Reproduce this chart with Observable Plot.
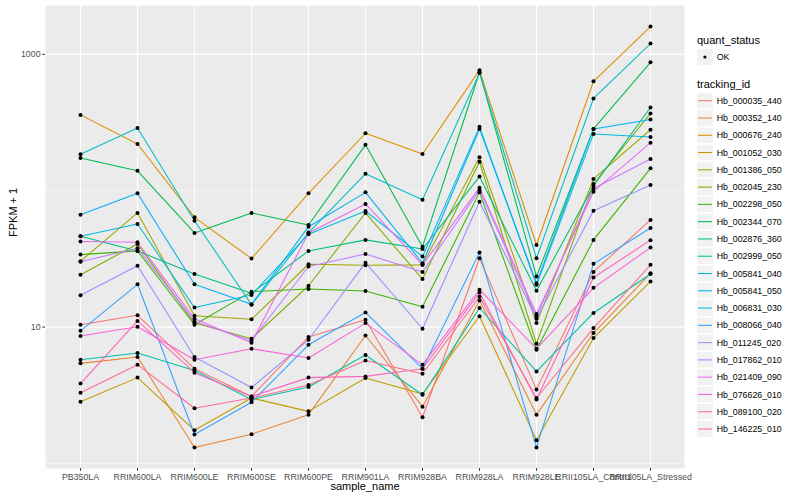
<!DOCTYPE html>
<html>
<head>
<meta charset="utf-8">
<script src="https://cdn.jsdelivr.net/npm/d3@7"></script>
<script src="https://cdn.jsdelivr.net/npm/@observablehq/plot@0.6"></script>
<style>
  body { margin: 0; background: white; font-family: "Liberation Sans", Arial, sans-serif; }
  #wrap { display: flex; width: 800px; height: 500px; }
</style>
</head>
<body>
<div id="wrap"></div>
<script>
const samples = ["PB350LA","RRIM600LA","RRIM600LE","RRIM600SE","RRIM600PE","RRIM901LA","RRIM928BA","RRIM928LA","RRIM928LE","RRII105LA_Control","RRII105LA_Stressed"];

const trackingIds = ["Hb_000035_440","Hb_000352_140","Hb_000676_240","Hb_001052_030","Hb_001386_050","Hb_002045_230","Hb_002298_050","Hb_002344_070","Hb_002876_360","Hb_002999_050","Hb_005841_040","Hb_005841_050","Hb_006831_030","Hb_008066_040","Hb_011245_020","Hb_017862_010","Hb_021409_090","Hb_076626_010","Hb_089100_020","Hb_146225_010"];

const palette = ["#F8766D","#EA8331","#D89000","#C09B00","#A3A500","#7CAE00","#39B600","#00BB4E","#00BF7D","#00C1A3","#00BFC4","#00BAE0","#00B0F6","#35A2FF","#9590FF","#C77CFF","#E76BF3","#FA62DB","#FF62BC","#FF6C91"];

// FPKM + 1 per sample (order of samples)
const hb_000035_440 = [10.4, 12.2, 4.95, 3.10, 8.45, 11.3, 2.18, 32.0, 3.48, 25.4, 61.1];
const hb_000352_140 = [5.42, 6.03, 1.31, 1.64, 2.28, 8.68, 2.61, 15.7, 2.28, 9.04, 24.8];
const hb_000676_240 = [360, 220, 63.8, 31.8, 95.7, 264, 186, 766, 40.0, 635, 1600];
const hb_001052_030 = [2.84, 4.26, 1.75, 3.02, 2.41, 4.23, 3.23, 12.0, 1.48, 8.31, 21.6];
const hb_001386_050 = [30.4, 68.7, 12.1, 11.4, 28.9, 28.4, 28.6, 176, 10.7, 122, 280];
const hb_002045_230 = [24.2, 40.7, 10.7, 8.21, 20.1, 68.7, 22.5, 163, 7.55, 112, 369];
const hb_002298_050 = [34.0, 36.2, 10.4, 18.2, 19.0, 18.4, 14.1, 97.3, 6.82, 43.6, 146];
const hb_002344_070 = [174, 140, 49.0, 68.7, 56.1, 217, 38.9, 740, 23.5, 284, 875];
const hb_002876_360 = [46.4, 36.2, 24.5, 17.7, 36.2, 43.6, 37.4, 127, 18.5, 109, 408];
const hb_002999_050 = [5.76, 6.45, 4.81, 2.94, 3.64, 6.24, 3.19, 13.8, 4.73, 12.7, 24.5];
const hb_005841_040 = [185, 288, 60.3, 14.6, 49.3, 133, 85.9, 731, 32.0, 475, 1200];
const hb_005841_050 = [46.4, 57.0, 13.9, 17.2, 48.0, 71.0, 32.9, 294, 20.4, 261, 248];
const hb_006831_030 = [66.7, 95.7, 20.6, 14.7, 54.5, 97.3, 29.4, 284, 21.0, 284, 333];
const hb_008066_040 = [9.39, 20.6, 1.63, 2.81, 7.42, 12.8, 4.95, 35.2, 1.31, 29.1, 53.3];
const hb_011245_020 = [17.1, 28.2, 6.03, 3.60, 8.07, 29.7, 9.72, 83.0, 11.5, 71.4, 110];
const hb_017862_010 = [30.1, 37.9, 11.0, 7.94, 27.8, 34.4, 25.4, 101, 12.0, 104, 171];
const hb_021409_090 = [42.4, 41.9, 11.5, 7.67, 49.0, 80.0, 28.6, 105, 12.5, 98.4, 225];
const hb_076626_010 = [8.59, 10.05, 5.76, 6.94, 5.93, 10.7, 5.30, 18.8, 6.94, 19.4, 38.3];
const hb_089100_020 = [3.85, 11.1, 4.63, 3.10, 4.26, 4.35, 4.95, 17.9, 2.94, 23.1, 43.4];
const hb_146225_010 = [3.30, 5.30, 2.54, 3.02, 3.76, 5.69, 4.55, 16.7, 3.02, 9.83, 28.6];

const seriesValues = [hb_000035_440, hb_000352_140, hb_000676_240, hb_001052_030, hb_001386_050, hb_002045_230, hb_002298_050, hb_002344_070, hb_002876_360, hb_002999_050, hb_005841_040, hb_005841_050, hb_006831_030, hb_008066_040, hb_011245_020, hb_017862_010, hb_021409_090, hb_076626_010, hb_089100_020, hb_146225_010];

const yTicks = [10, 1000];
const yMinor = [1, 100];

const table = [];
trackingIds.forEach((id, i) => {
  seriesValues[i].forEach((v, j) => table.push({id, sample: samples[j], value: v}));
});

// ggplot-like 5% expansion in log space
const ext = d3.extent(table, d => Math.log10(d.value));
const pad = 0.05 * (ext[1] - ext[0]);
const yDomain = [Math.pow(10, ext[0] - pad), Math.pow(10, ext[1] + pad)];

const font = "'Liberation Sans', Arial, Helvetica, sans-serif";

const chart = Plot.plot({
  width: 690,
  height: 500,
  marginLeft: 45,
  marginRight: 6,
  marginTop: 5,
  marginBottom: 32,
  style: {fontFamily: font, background: "white", overflow: "visible"},
  x: {type: "point", domain: samples, padding: 0.6},
  y: {type: "log", domain: yDomain},
  color: {domain: trackingIds, range: palette},
  marks: [
    Plot.frame({fill: "#EBEBEB"}),
    Plot.ruleY(yMinor, {stroke: "white", strokeWidth: 0.55}),
    Plot.ruleY(yTicks, {stroke: "white", strokeWidth: 1.1}),
    Plot.ruleX(samples, {stroke: "white", strokeWidth: 1.1}),
    Plot.line(table, {x: "sample", y: "value", z: "id", stroke: "id", strokeWidth: 1.07}),
    Plot.dot(table, {x: "sample", y: "value", r: 2, fill: "black", stroke: null}),
    Plot.axisY(yTicks, {tickSize: 2.75, tickPadding: 2.2, fontSize: 8.8, fill: "#4D4D4D", stroke: "#333333", tickFormat: d => String(d), label: null}),
    Plot.axisX({tickSize: 2.75, tickPadding: 2.2, fontSize: 8.8, fill: "#4D4D4D", stroke: "#333333", label: null}),
    Plot.text(["FPKM + 1"], {text: d => d, frameAnchor: "left", rotate: -90, dx: -32, fontSize: 11, fill: "black"}),
    Plot.text(["sample_name"], {text: d => d, frameAnchor: "bottom", dy: 21.5, fontSize: 11, fill: "black"})
  ]
});

const wrap = document.getElementById("wrap");
wrap.appendChild(chart);

// Legend (ggplot style) on the right
const lg = d3.select(wrap).append("svg")
  .attr("width", 110).attr("height", 500)
  .style("font-family", font);

const keyX = 6.3, keyW = 17.28, textX = 26.7;

lg.append("text").attr("x", 7).attr("y", 40).attr("dy", "0.35em")
  .attr("font-size", 11).attr("fill", "black").text("quant_status");
lg.append("rect").attr("x", keyX).attr("y", 57 - keyW / 2).attr("width", keyW).attr("height", keyW)
  .attr("fill", "#F2F2F2").attr("stroke", "white").attr("stroke-width", 1.5);
lg.append("circle").attr("cx", keyX + keyW / 2).attr("cy", 57).attr("r", 1.6).attr("fill", "black");
lg.append("text").attr("x", textX).attr("y", 57).attr("dy", "0.35em")
  .attr("font-size", 8.8).attr("fill", "black").text("OK");

lg.append("text").attr("x", 7).attr("y", 84).attr("dy", "0.35em")
  .attr("font-size", 11).attr("fill", "black").text("tracking_id");

trackingIds.forEach((id, i) => {
  const cy = 100.7 + i * keyW;
  lg.append("rect").attr("x", keyX).attr("y", cy - keyW / 2).attr("width", keyW).attr("height", keyW)
    .attr("fill", "#F2F2F2").attr("stroke", "white").attr("stroke-width", 1.5);
  lg.append("line").attr("x1", keyX + 1.7).attr("x2", keyX + keyW - 1.7).attr("y1", cy).attr("y2", cy)
    .attr("stroke", palette[i]).attr("stroke-width", 1.07);
  lg.append("text").attr("x", textX).attr("y", cy).attr("dy", "0.35em")
    .attr("font-size", 8.8).attr("fill", "black").text(id);
});
</script>
</body>
</html>
